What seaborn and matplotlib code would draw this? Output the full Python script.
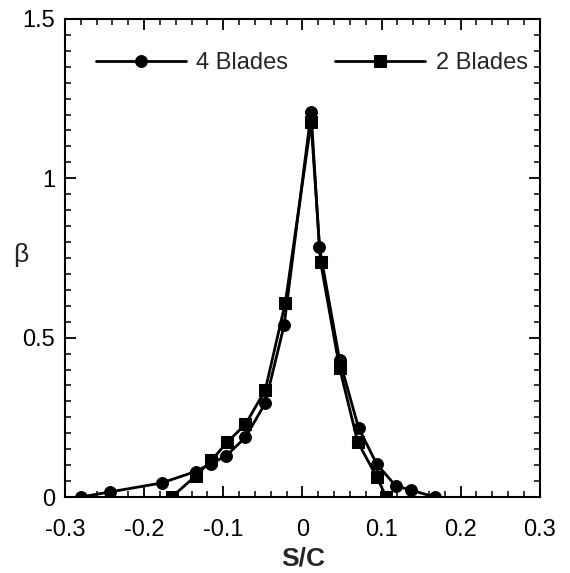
import matplotlib
matplotlib.use("Agg")
import matplotlib.pyplot as plt
import seaborn as sns
import pandas as pd
from matplotlib.ticker import MultipleLocator, FuncFormatter

# Data
x4 = [-0.280, -0.243, -0.178, -0.135, -0.115, -0.096, -0.072, -0.047, -0.023,
      0.011, 0.0215, 0.047, 0.071, 0.094, 0.118, 0.137, 0.167]
y4 = [0.000, 0.016, 0.044, 0.080, 0.105, 0.130, 0.187, 0.294, 0.540,
      1.207, 0.784, 0.430, 0.217, 0.103, 0.035, 0.022, 0.000]
x2 = [-0.165, -0.135, -0.115, -0.095, -0.072, -0.047, -0.0215,
      0.011, 0.023, 0.047, 0.070, 0.094, 0.106]
y2 = [0.000, 0.066, 0.115, 0.172, 0.228, 0.335, 0.610,
      1.175, 0.737, 0.405, 0.172, 0.063, 0.000]
series = ["4 Blades", "2 Blades"]

df = pd.concat([
    pd.DataFrame({"S/C": x4, "beta": y4, "series": series[0]}),
    pd.DataFrame({"S/C": x2, "beta": y2, "series": series[1]}),
], ignore_index=True)

sns.set_style("ticks")
plt.rcParams["font.family"] = ["Liberation Sans", "DejaVu Sans"]

fig = plt.figure(figsize=(5.7, 5.73), dpi=100)
ax = fig.add_axes([0.114, 0.1326, 0.833, 0.8344])

sns.lineplot(data=df, x="S/C", y="beta", hue="series", style="series",
             markers={"4 Blades": "o", "2 Blades": "s"}, dashes=False,
             palette={"4 Blades": "black", "2 Blades": "black"},
             sort=False, estimator=None, ax=ax, linewidth=2.0,
             markersize=8.5, markeredgecolor="black")

ax.set_xlim(-0.3, 0.3)
ax.set_ylim(0, 1.5)
ax.xaxis.set_major_locator(MultipleLocator(0.1))
ax.xaxis.set_minor_locator(MultipleLocator(0.02))
ax.yaxis.set_major_locator(MultipleLocator(0.5))
ax.yaxis.set_minor_locator(MultipleLocator(0.05))

def fmt(v, pos):
    if abs(v) < 1e-9:
        return "0"
    if abs(v - round(v)) < 1e-9:
        return "%d" % round(v)
    return "%.1f" % v
ax.xaxis.set_major_formatter(FuncFormatter(fmt))
ax.yaxis.set_major_formatter(FuncFormatter(fmt))

ax.tick_params(which="both", direction="in", top=True, right=True,
               labelsize=17, color="black", labelcolor="black")
ax.tick_params(which="major", length=8, width=1.3)
ax.tick_params(which="minor", length=4, width=1.1)
ax.tick_params(axis="x", which="major", pad=16)
ax.tick_params(axis="y", which="major", pad=7)
for s in ax.spines.values():
    s.set_linewidth(1.5)
    s.set_color("black")

ax.set_xlabel("S/C", fontsize=19, fontweight="bold")
ax.xaxis.set_label_coords(0.502, -0.104)
ax.set_ylabel("β", fontsize=19, rotation=0, va="center", ha="center")
ax.yaxis.set_label_coords(-0.093, 0.506)

handles, labels = ax.get_legend_handles_labels()
ax.legend(handles, labels, ncol=2, frameon=False, fontsize=17,
          loc="center", bbox_to_anchor=(0.52, 0.908), handlelength=3.8,
          columnspacing=2.0, handletextpad=0.45)

fig.savefig("out.png", dpi=100)
